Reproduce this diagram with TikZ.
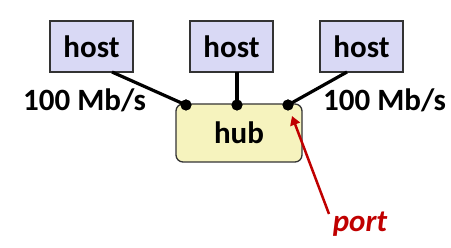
\documentclass[tikz,border=0pt]{standalone}
\usepackage{fontspec}
\setmainfont{Carlito}
\usetikzlibrary{arrows.meta}
\definecolor{hostfill}{HTML}{D9D9F5}
\definecolor{hubfill}{HTML}{F6F3BE}
\definecolor{portred}{HTML}{C00000}
\begin{document}
\begin{tikzpicture}[x=1pt,y=-1pt,
  hostbox/.style={draw=black!80, line width=1.3pt, fill=hostfill, minimum width=83pt, minimum height=51pt, inner sep=0pt, font=\fontsize{31}{36}\selectfont\bfseries},
  hubbox/.style={draw=black!80, line width=1.3pt, fill=hubfill, rounded corners=7pt, minimum width=126pt, minimum height=58pt, inner sep=0pt, font=\fontsize{31}{36}\selectfont\bfseries},
  link/.style={line width=3.2pt},
  portdot/.style={circle, fill=black, inner sep=0pt, minimum size=11pt},
  lbl/.style={font=\fontsize{31}{36}\selectfont\bfseries, inner sep=0pt}]
\useasboundingbox (0,0) rectangle (451,248);
\node[hubbox] (hub) at (239,133) {hub};
\node[hostbox] (h1) at (91.5,46.5) {host};
\node[hostbox] (h2) at (231.5,46.5) {host};
\node[hostbox] (h3) at (361.5,46.5) {host};
\coordinate (a1) at (112,72);
\coordinate (a2) at (237,72);
\coordinate (a3) at (347,72);
\node[portdot] (p1) at (186,105) {};
\node[portdot] (p2) at (237,105) {};
\node[portdot] (p3) at (288,105) {};
\draw[link] (a1) -- (p1.center);
\draw[link] (a2) -- (p2.center);
\draw[link] (a3) -- (p3.center);
\node[portdot] at (p1) {};
\node[portdot] at (p2) {};
\node[portdot] at (p3) {};
\node[lbl] (l1) at (84.5,100) {100 Mb/s};
\node[lbl] (l2) at (384.5,100) {100 Mb/s};
\node[lbl, text=portred, font=\fontsize{31}{36}\selectfont\bfseries\itshape, anchor=base] (port) at (360,232) {port};
\coordinate (pt) at (329,214);
\coordinate (tip) at (292,116);
\draw[portred, line width=2.5pt, -{Triangle[length=9pt,width=10pt]}] (pt) -- (tip);
\end{tikzpicture}
\end{document}
